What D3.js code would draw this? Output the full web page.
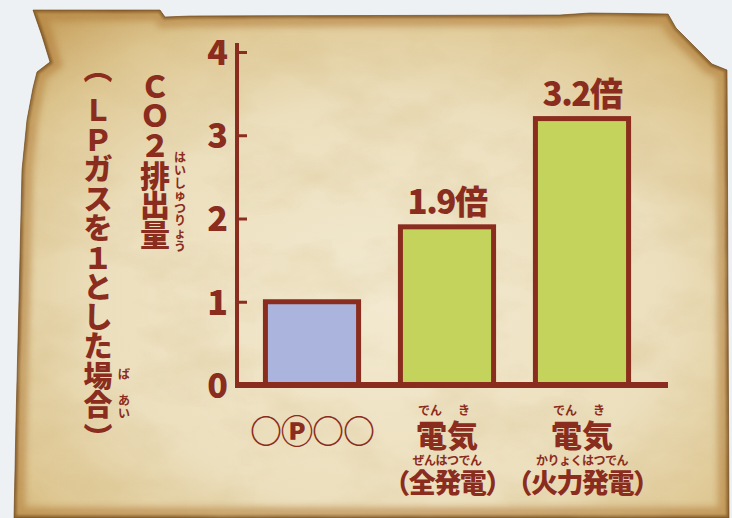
<!DOCTYPE html>
<html>
<head>
<meta charset="utf-8">
<script src="https://cdn.jsdelivr.net/npm/d3@7"></script>
<style>
  html, body { margin: 0; padding: 0; background: #eef1f4; }
  svg { display: block; }
  .jp { font-family: "Noto Sans CJK JP", "Noto Sans", sans-serif; }
</style>
</head>
<body>
<svg id="chart" width="732" height="518"></svg>
<script>
// ---- data ----
const categories = ["LPG", "電気（全発電）", "電気（火力発電）"];
const values = [1, 1.9, 3.2];
const valueLabels = ["", "1.9倍", "3.2倍"];
const barColors = ["#aab4dc", "#c4d35b", "#c4d35b"];
const yTicks = [0, 1, 2, 3, 4];
const xMainLabels = ["○Ⓟ○○", "電気", "電気"];
const xRubyTop = [null, ["でん", "き"], ["でん", "き"]];
const xSubRuby = [null, "ぜんはつでん", "かりょくはつでん"];
const xSubLabels = [null, "（全発電）", "（火力発電）"];
const yTitle1 = "ＣＯ２排出量";
const yTitle1Ruby = "はいしゅつりょう";
const yTitle2 = "︵ＬＰガスを１とした場合︶";
const yTitle2Ruby = ["ば", "あい"];

const ink = "#8a2c1e";
const svg = d3.select("#chart");

// ---- parchment background ----
const defs = svg.append("defs");
const rg = defs.append("radialGradient").attr("id", "paper")
  .attr("cx", "52%").attr("cy", "58%").attr("r", "72%");
rg.append("stop").attr("offset", "0%").attr("stop-color", "#f2e9d0");
rg.append("stop").attr("offset", "55%").attr("stop-color", "#ecdfbd");
rg.append("stop").attr("offset", "85%").attr("stop-color", "#ddc58f");
rg.append("stop").attr("offset", "100%").attr("stop-color", "#c9a463");

const tex = defs.append("filter").attr("id", "tex").attr("x", 0).attr("y", 0).attr("width", 1).attr("height", 1);
tex.append("feTurbulence").attr("type", "fractalNoise").attr("baseFrequency", "0.012 0.02").attr("numOctaves", 4).attr("seed", 7).attr("result", "n");
tex.append("feColorMatrix").attr("in", "n").attr("type", "matrix")
  .attr("values", "0 0 0 0 0.62  0 0 0 0 0.45  0 0 0 0 0.18  1.5 0 0 0 -0.64").attr("result", "c");
tex.append("feComposite").attr("in", "c").attr("in2", "SourceGraphic").attr("operator", "in");

const blur = defs.append("filter").attr("id", "blur");
blur.append("feGaussianBlur").attr("stdDeviation", 3);
const blur2 = defs.append("filter").attr("id", "blur2");
blur2.append("feGaussianBlur").attr("stdDeviation", 1.2);

const paperPts = [[33,10],[160,10],[165,17],[190,16],[560,15],[590,13],[668,14],[676,28],[688,40],[700,52],[712,64],[727,70],[729,518],[14,518],[16,420],[19,300],[22,170],[27,120],[33,88],[37,72],[50,62],[42,36]];
const paperPath = d3.line().curve(d3.curveLinearClosed)(paperPts);
defs.append("clipPath").attr("id", "pclip").append("path").attr("d", paperPath);

svg.append("path").attr("d", paperPath).attr("fill", "url(#paper)");
const pg = svg.append("g").attr("clip-path", "url(#pclip)");
pg.append("path").attr("d", paperPath).attr("fill", "none")
  .attr("stroke", "#b07a38").attr("stroke-width", 22).attr("opacity", 0.55).attr("filter", "url(#blur)");
pg.append("path").attr("d", paperPath).attr("fill", "none")
  .attr("stroke", "#6e4418").attr("stroke-width", 5).attr("opacity", 0.6).attr("filter", "url(#blur2)");
svg.append("rect").attr("x", 0).attr("y", 0).attr("width", 732).attr("height", 518)
  .attr("clip-path", "url(#pclip)").attr("fill", "#000").attr("filter", "url(#tex)").attr("opacity", 0.35);
svg.append("path").attr("d", paperPath).attr("fill", "none").attr("stroke", "#6b4620").attr("stroke-width", 1).attr("opacity", 0.6);

// ---- scales ----
const y = d3.scaleLinear().domain([0, 4]).range([385, 52]);
const x = d3.scaleBand().domain(categories).range([244.5, 649.5]).paddingInner(0.31).paddingOuter(0.155);

// ---- bars ----
svg.append("g").selectAll("rect").data(values).join("rect")
  .attr("x", (d, i) => x(categories[i]))
  .attr("y", d => y(d))
  .attr("width", x.bandwidth())
  .attr("height", d => y(0) - y(d))
  .attr("fill", (d, i) => barColors[i])
  .attr("stroke", ink).attr("stroke-width", 5);

// ---- y axis ----
const axisX = 237;
const yAxis = d3.axisLeft(y).tickValues(yTicks).tickFormat(d3.format("d"))
  .tickSizeInner(-10).tickSizeOuter(0).tickPadding(9);
const ag = svg.append("g").attr("transform", `translate(${axisX},0)`).call(yAxis);
ag.select(".domain").remove();
ag.selectAll(".tick line").attr("stroke", ink).attr("stroke-width", 3);
ag.selectAll(".tick text").attr("fill", ink)
  .attr("class", "jp").attr("font-size", 34).attr("font-weight", 900).attr("dy", "0.36em");
svg.append("line").attr("x1", axisX).attr("x2", axisX).attr("y1", 43).attr("y2", y(0))
  .attr("stroke", ink).attr("stroke-width", 4);
svg.append("line").attr("x1", axisX - 2).attr("x2", 668).attr("y1", y(0)).attr("y2", y(0))
  .attr("stroke", ink).attr("stroke-width", 6);

// ---- value labels ----
svg.append("g").selectAll("text").data(values).join("text")
  .attr("class", "jp")
  .attr("x", (d, i) => x(categories[i]) + x.bandwidth() / 2)
  .attr("y", d => y(d) - 13)
  .attr("text-anchor", "middle")
  .attr("font-size", 33).attr("font-weight", 900).attr("fill", ink)
  .attr("letter-spacing", -1.5)
  .text((d, i) => valueLabels[i]);

// ---- x labels ----
const xl = svg.append("g").attr("class", "jp").attr("fill", ink).attr("text-anchor", "middle");
categories.forEach((c, i) => {
  const cx = x(c) + x.bandwidth() / 2;
  if (i === 0) {
    xl.append("text").attr("x", cx).attr("y", 443).attr("font-size", 32).attr("font-weight", 900)
      .attr("letter-spacing", -1).text(xMainLabels[i]);
    return;
  }
  xRubyTop[i].forEach((r, k) => {
    xl.append("text").attr("x", cx + (k === 0 ? -17 : 17)).attr("y", 415)
      .attr("font-size", 12).attr("font-weight", 700).text(r);
  });
  xl.append("text").attr("x", cx).attr("y", 447).attr("font-size", 31).attr("font-weight", 900).text(xMainLabels[i]);
  xl.append("text").attr("x", cx).attr("y", 465).attr("font-size", 12).attr("font-weight", 700)
    .attr("letter-spacing", -0.5).text(xSubRuby[i]);
  xl.append("text").attr("x", cx).attr("y", 493).attr("font-size", 27).attr("font-weight", 900)
    .attr("letter-spacing", -1.5).text(xSubLabels[i]);
});

// ---- y title: stacked glyphs in a column (one text element per string) ----
function vText(g, str, cx, tops, size, weight) {
  const chars = Array.from(str);
  g.append("text")
    .attr("x", chars.map(() => cx).join(" "))
    .attr("y", tops.map(t => (t + 0.86 * size).toFixed(1)).join(" "))
    .attr("text-anchor", "middle")
    .attr("font-size", size).attr("font-weight", weight).text(str);
}
const evenTops = (n, top, step) => d3.range(n).map(i => top + i * step);
const vt = svg.append("g").attr("class", "jp").attr("fill", ink);
vText(vt, yTitle1, 155, evenTops(6, 72, 29.6), 30, 900);
vText(vt, yTitle1Ruby, 180, evenTops(8, 152, 12.6), 12, 700);
// parentheses take half slots; the 11 inner glyphs are evenly stacked
const col2Tops = [55].concat(evenTops(11, 96.5, 29.45), [424]);
vText(vt, yTitle2, 98, col2Tops, 29, 900);
vText(vt, yTitle2Ruby[0], 124, evenTops(1, 369, 12.5), 12, 700);
vText(vt, yTitle2Ruby[1], 124, evenTops(2, 395, 12.5), 12, 700);
</script>
</body>
</html>
